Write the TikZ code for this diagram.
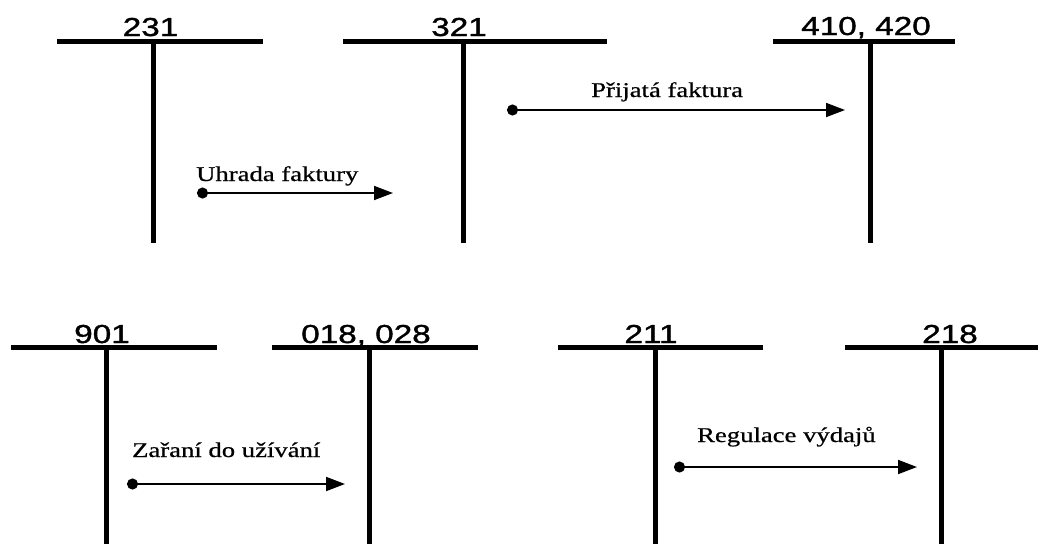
\documentclass[tikz,border=0pt]{standalone}
\usepackage{fontspec}
\setmainfont{Liberation Serif}[FakeBold=0.6]
\newfontfamily\acctfont{Liberation Sans}[FakeBold=1.2]
\usetikzlibrary{arrows.meta}
\begin{document}
\begin{tikzpicture}[x=1pt,y=-1pt,
  tline/.style={line width=5pt},
  acct/.style={anchor=base,inner sep=0pt,font=\acctfont\fontsize{26}{26}\selectfont},
  flow/.style={line width=1.8pt,{Circle[length=11pt]}-{Triangle[length=19pt,width=14pt]}},
  lbl/.style={anchor=base west,inner sep=0pt,font=\fontsize{21}{21}\selectfont}]
\useasboundingbox[fill=white] (0,0) rectangle (1038,544);
% top row T-accounts
\draw[tline] (57,41) -- (263,41);  \draw[tline] (153,41) -- (153,243);
\draw[tline] (343,41) -- (607,41); \draw[tline] (463,41) -- (463,243);
\draw[tline] (773,41) -- (955,41); \draw[tline] (870,41) -- (870,243);
\node[acct] (a231) at (150.5,36) {\scalebox{1.28}[1]{231}};
\node[acct] (a321) at (459,36) {\scalebox{1.28}[1]{321}};
\node[acct] (a410) at (866,35) {\scalebox{1.28}[1]{410, 420}};
% bottom row T-accounts
\draw[tline] (11,347) -- (217,347);  \draw[tline] (106,347) -- (106,544);
\draw[tline] (272,347) -- (478,347); \draw[tline] (369,347) -- (369,544);
\draw[tline] (558,347) -- (763,347); \draw[tline] (655,347) -- (655,544);
\draw[tline] (845,347) -- (1038,347); \draw[tline] (941,347) -- (941,544);
\node[acct] (a901) at (102,343) {\scalebox{1.28}[1]{901}};
\node[acct] (a018) at (366,343) {\scalebox{1.28}[1]{018, 028}};
\node[acct] (a211) at (651,343) {\scalebox{1.28}[1]{211}};
\node[acct] (a218) at (950,343) {\scalebox{1.28}[1]{218}};
% flows
\coordinate (u1) at (197,193); \coordinate (u2) at (393,193);
\coordinate (p1) at (507,110); \coordinate (p2) at (845,110);
\coordinate (z1) at (127,484); \coordinate (z2) at (345,484);
\coordinate (r1) at (674,467); \coordinate (r2) at (917,467);
\draw[flow] (u1) -- (u2);
\draw[flow] (p1) -- (p2);
\draw[flow] (z1) -- (z2);
\draw[flow] (r1) -- (r2);
\node[lbl] (lu) at (196,181) {\scalebox{1.27}[1]{Uhrada faktury}};
\node[lbl] (lp) at (591,97) {\scalebox{1.27}[1]{Přijatá faktura}};
\node[lbl] (lz) at (132,457) {\scalebox{1.27}[1]{Zařaní do užívání}};
\node[lbl] (lr) at (697,442) {\scalebox{1.27}[1]{Regulace výdajů}};
\end{tikzpicture}
\end{document}
